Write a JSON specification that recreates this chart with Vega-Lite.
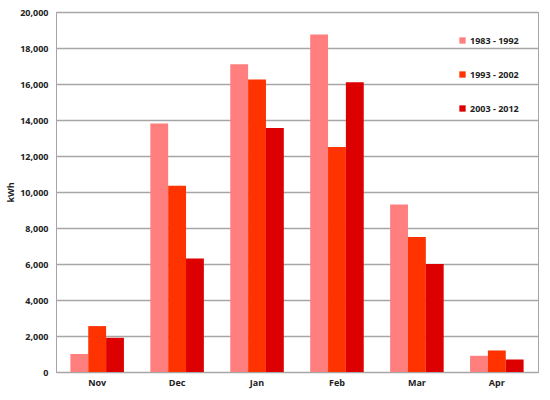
{
  "$schema": "https://vega.github.io/schema/vega-lite/v6.json",
  "width": 482,
  "height": 360,
  "autosize": {"type": "none"},
  "padding": {"left": 56, "top": 12, "right": 12, "bottom": 28},
  "background": "white",
  "data": {
    "values": [
      {"month": "Nov", "period": "1983 - 1992", "kWh": 1000},
      {"month": "Nov", "period": "1993 - 2002", "kWh": 2550},
      {"month": "Nov", "period": "2003 - 2012", "kWh": 1900},
      {"month": "Dec", "period": "1983 - 1992", "kWh": 13800},
      {"month": "Dec", "period": "1993 - 2002", "kWh": 10350},
      {"month": "Dec", "period": "2003 - 2012", "kWh": 6300},
      {"month": "Jan", "period": "1983 - 1992", "kWh": 17100},
      {"month": "Jan", "period": "1993 - 2002", "kWh": 16250},
      {"month": "Jan", "period": "2003 - 2012", "kWh": 13550},
      {"month": "Feb", "period": "1983 - 1992", "kWh": 18750},
      {"month": "Feb", "period": "1993 - 2002", "kWh": 12500},
      {"month": "Feb", "period": "2003 - 2012", "kWh": 16100},
      {"month": "Mar", "period": "1983 - 1992", "kWh": 9300},
      {"month": "Mar", "period": "1993 - 2002", "kWh": 7500},
      {"month": "Mar", "period": "2003 - 2012", "kWh": 6000},
      {"month": "Apr", "period": "1983 - 1992", "kWh": 900},
      {"month": "Apr", "period": "1993 - 2002", "kWh": 1200},
      {"month": "Apr", "period": "2003 - 2012", "kWh": 700}
    ]
  },
  "config": {
    "view": {"stroke": "#a6a6a6", "strokeWidth": 1},
    "font": "Open Sans"
  },
  "mark": {"type": "bar"},
  "encoding": {
    "x": {
      "field": "month", "type": "nominal", "sort": null,
      "scale": {"paddingInner": 0.33, "paddingOuter": 0.18},
      "axis": {"title": null, "labelAngle": 0, "labelFontWeight": "bold", "labelFontSize": 9, "labelColor": "#222", "ticks": false, "domain": false, "labelPadding": 6}
    },
    "xOffset": {"field": "period", "type": "nominal", "scale": {"paddingInner": 0, "paddingOuter": 0}},
    "y": {
      "field": "kWh", "type": "quantitative",
      "scale": {"domain": [0, 20000]},
      "axis": {"title": "kWh", "titleFontSize": 9, "titleFontWeight": "bold", "titleColor": "#222", "titlePadding": 4, "values": [0,2000,4000,6000,8000,10000,12000,14000,16000,18000,20000], "format": ",d", "labelFontWeight": "bold", "labelFontSize": 9, "labelColor": "#222", "ticks": false, "labelPadding": 8, "domainColor": "#a6a6a6", "gridColor": "#a6a6a6", "gridWidth": 1.3}
    },
    "color": {
      "field": "period", "type": "nominal",
      "scale": {"range": ["#FF7F7F", "#FF3300", "#DD0000"]},
      "legend": {"title": null, "orient": "none", "legendX": 402, "legendY": 24, "symbolType": "square", "symbolSize": 40, "labelFontSize": 9, "labelFontWeight": "bold", "labelColor": "#222", "rowPadding": 24, "labelOffset": 3, "symbolOpacity": 1}
    }
  }
}
